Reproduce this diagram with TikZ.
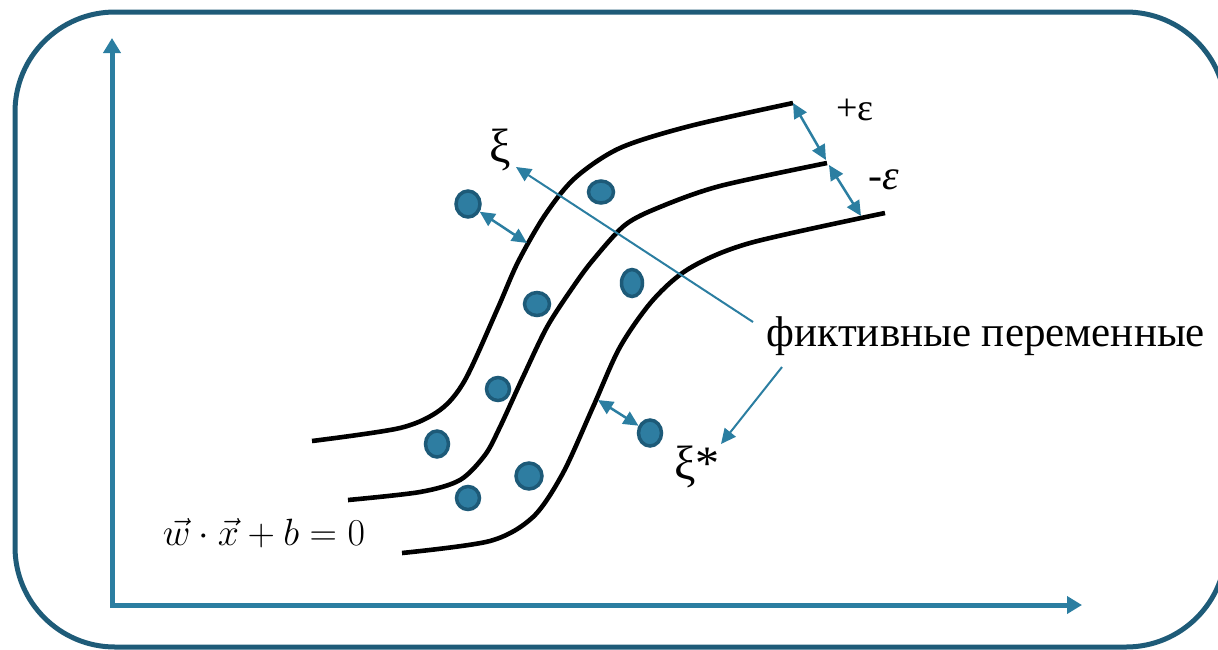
\RequirePackage{fix-cm}
\documentclass[tikz,border=0pt]{standalone}
\usepackage{amsmath}
\usepackage{fontspec}
\setmainfont{Liberation Serif}
\usepackage{tikz}
\usetikzlibrary{shapes.geometric,arrows.meta,positioning,calc}
\definecolor{framecol}{HTML}{1E5B78}
\definecolor{axiscol}{HTML}{2B7EA1}
\definecolor{dotfill}{HTML}{2E7DA1}
\definecolor{dotedge}{HTML}{1D5A78}

\begin{document}
\begin{tikzpicture}[x=1pt,y=-1pt,
    band/.style={line width=4.6pt,black},
    pt/.style={ellipse,fill=dotfill,draw=dotedge,line width=3.5pt,inner sep=0pt},
    gap/.style={axiscol,line width=2.5pt,{Triangle[length=15pt,width=14pt]}-{Triangle[length=15pt,width=14pt]}},
    pointer/.style={axiscol,line width=2pt,-{Triangle[length=15pt,width=14pt]}},
    axis/.style={axiscol,line width=5pt,{Triangle[length=15pt,width=17pt]}-{Triangle[length=15pt,width=17pt]}},
    lbl/.style={inner sep=0pt}]
    \clip (0,0) rectangle (1218,649);

    % frame
    \draw[framecol,line width=5pt,rounded corners=100pt] (15,12) rectangle (1226,647);

    % axes
    \coordinate (ytip) at (112,38);
    \coordinate (O) at (112,605);
    \coordinate (xtip) at (1082,605);
    \draw[axis,line join=miter] (ytip) -- (O) -- (xtip);

    % the three curves
    \draw[band] plot[smooth,tension=0.5] coordinates {(312,441) (400,428) (440,410) (465,380) (497,310)
        (518,262) (545,215) (575,178) (620,148) (690,126) (793,103)};
    \draw[band] plot[smooth,tension=0.5] coordinates {(348,500) (420,492) (460,480) (485,455) (500,427)
        (523,377) (547,327) (573,287) (593,260) (625,225) (660,207) (720,186) (827,163)};
    \draw[band] plot[smooth,tension=0.5] coordinates {(402,553) (490,541) (533,517) (563,473) (593,407)
        (620,347) (653,300) (690,268) (750,243) (885,213)};

    % points
    \node[pt,minimum width=24pt,minimum height=26pt] (d1) at (468,204) {};
    \node[pt,minimum width=25pt,minimum height=22pt] (d2) at (601,192) {};
    \node[pt,minimum width=21pt,minimum height=27pt] (d3) at (632,283) {};
    \node[pt,minimum width=25pt,minimum height=23pt] (d4) at (537,304) {};
    \node[pt,minimum width=23pt,minimum height=23pt] (d5) at (498,389) {};
    \node[pt,minimum width=23pt,minimum height=26pt] (d6) at (437,444) {};
    \node[pt,minimum width=26pt,minimum height=26pt] (d7) at (529,476) {};
    \node[pt,minimum width=23pt,minimum height=23pt] (d8) at (468,498) {};
    \node[pt,minimum width=23pt,minimum height=26pt] (d9) at (650,433) {};

    % labels
    \node[lbl,font=\fontsize{48}{54}\selectfont] (xi) at (500,150) {ξ};
    \node[lbl,font=\fontsize{48}{54}\selectfont] (xis) at (697,467) {ξ*};
    \node[lbl,font=\fontsize{38}{44}\selectfont] (pe) at (855,110) {+ε};
    \node[lbl,font=\fontsize{42}{48}\selectfont] (me) at (884,180) {-\textit{ε}};
    \node[lbl,font=\fontsize{43}{49}\selectfont] (slack) at (986,336) {фиктивные переменные};
    \node[lbl,font=\fontsize{38}{44}\selectfont] (eq) at (264,533) {$\vec{w}\cdot\vec{x}+b=0$};

    % epsilon gaps
    \coordinate (e1) at (793,103);
    \coordinate (e2) at (826,160);
    \coordinate (e3) at (829,165);
    \coordinate (e4) at (861,216);
    \draw[gap] (e1) -- (e2);
    \draw[gap] (e3) -- (e4);

    % slack distances
    \coordinate (g1) at (527,243);
    \coordinate (g2) at (598,400);
    \draw[gap] (d1) -- (g1);
    \draw[gap] (g2) -- (d9);

    % pointers from the text
    \coordinate (s1) at (753,322);
    \coordinate (t1) at (516,167);
    \coordinate (s2) at (782,367);
    \coordinate (t2) at (721,444);
    \draw[pointer] (s1) -- (t1);
    \draw[pointer] (s2) -- (t2);
\end{tikzpicture}
\end{document}
